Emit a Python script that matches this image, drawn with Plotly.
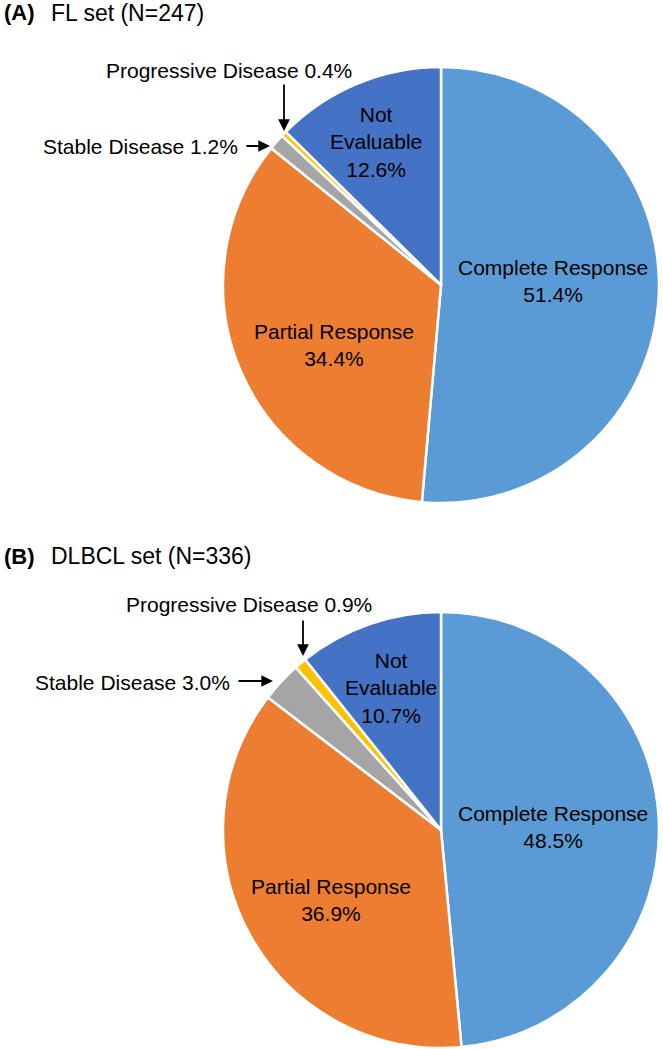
import plotly.graph_objects as go

# Response categories, shared by both panels.
categories = ['Complete Response', 'Partial Response', 'Stable Disease',
              'Progressive Disease', 'Not Evaluable']
fl_pct = [51.4, 34.4, 1.2, 0.4, 12.6]
dlbcl_pct = [48.5, 36.9, 3.0, 0.9, 10.7]
panel_titles = ['FL set (N=247)', 'DLBCL set (N=336)']
panel_tags = ['(A)', '(B)']

colors = ['#5B9BD5', '#ED7D31', '#A5A5A5', '#FFC000', '#4472C4']
W, H = 663, 1049
FONT = 'Liberation Sans, Arial, sans-serif'


def px(x, y):
    # pixel position -> paper coords (no margins)
    return x / W, 1 - y / H


def domain(cx, cy, r):
    return dict(x=[(cx - r) / W, (cx + r) / W],
                y=[1 - (cy + r) / H, 1 - (cy - r) / H])


fig = go.Figure()
centers = [(441, 285), (441, 830)]
for vals, (cx, cy) in zip([fl_pct, dlbcl_pct], centers):
    fig.add_trace(go.Pie(labels=categories, values=vals, sort=False,
                         direction='clockwise', rotation=0,
                         marker=dict(colors=colors,
                                     line=dict(color='white', width=2.5)),
                         textinfo='none', hoverinfo='label+value',
                         domain=domain(cx, cy, 218), showlegend=False))

ann = []
# panel titles
for tag, title, ty in zip(panel_tags, panel_titles, [13, 556]):
    x, y = px(2, ty)
    ann.append(dict(x=x, y=y, text='<b>' + tag + '</b>', xanchor='left',
                    yanchor='middle', font=dict(size=22)))
    x, y = px(49, ty)
    ann.append(dict(x=x, y=y, text=title, xanchor='left', yanchor='middle',
                    font=dict(size=23)))

# inside labels (Complete, Partial, Not Evaluable)
inside_pos = [
    {0: (553, 281), 1: (334, 345), 4: (376, 142)},
    {0: (553, 827), 1: (331, 900), 4: (391, 688)},
]
# outside labels with arrows: label centre, arrow head, arrow offset
outside_pos = [
    {3: ((229, 70), (284, 131), (0, -48)),
     2: ((140, 146), (270, 146), (-25, 0))},
    {3: ((249, 604), (303, 656), (0, -37)),
     2: ((132, 682), (273, 681), (-36, 0))},
]
for vals, ins, outs in zip([fl_pct, dlbcl_pct], inside_pos, outside_pos):
    for i, (lx, ly) in ins.items():
        name = categories[i].replace('Not ', 'Not<br>')
        x, y = px(lx, ly)
        ann.append(dict(x=x, y=y, text=f'{name}<br>{vals[i]:.1f}%',
                        xanchor='center', yanchor='middle'))
    for i, ((lx, ly), (hx, hy), (dx, dy)) in outs.items():
        x, y = px(lx, ly)
        ann.append(dict(x=x, y=y, text=f'{categories[i]} {vals[i]:.1f}%',
                        xanchor='center', yanchor='middle'))
        x, y = px(hx, hy)
        ann.append(dict(x=x, y=y, text='', showarrow=True, ax=dx, ay=dy,
                        arrowhead=2, arrowsize=1.3, arrowwidth=1.8,
                        arrowcolor='black'))

for a in ann:
    a.setdefault('showarrow', False)
    a['xref'] = 'paper'
    a['yref'] = 'paper'

fig.update_layout(width=W, height=H, margin=dict(l=0, r=0, t=0, b=0),
                  paper_bgcolor='white', plot_bgcolor='white',
                  font=dict(family=FONT, size=21, color='black'),
                  annotations=ann)
# drop the default page margin so the figure sits at the window corner
fig.write_html('out.html', config={'displayModeBar': False},
               post_script="document.body.style.margin='0';"
                           "document.body.style.overflow='hidden';")
